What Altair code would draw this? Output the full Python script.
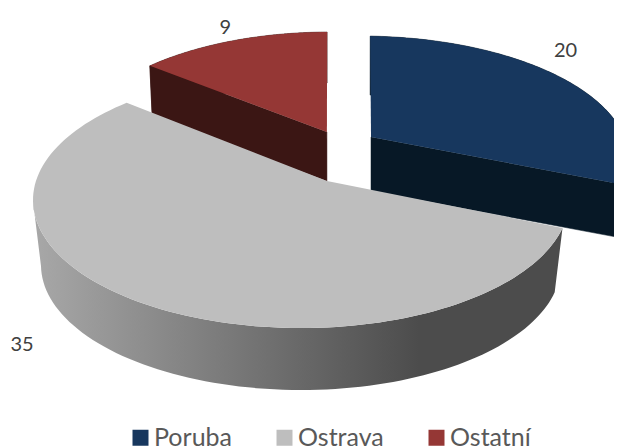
import numpy as np
import pandas as pd
import altair as alt

categories = ["Poruba", "Ostrava", "Ostatní"]
values = [20, 35, 9]
top_colors = ["#17375e", "#bebebe", "#953735"]
dark_colors = ["#071826", "#5a5a5a", "#3b1614"]

# perspective of each exploded slice: ellipse of the top and bottom rims (cx, cy, rx, ry)
# and the position of the slice apex inside that ellipse
top_rim = [(360, 160, 269, 124), (301, 200, 268, 128), (330, 151, 258, 119)]
bottom_rim = [(360, 215, 262, 120), (301, 265, 260, 125), (330, 200, 255, 117)]
apex_top = [(0.041, -0.185), (0.097, -0.148), (-0.012, -0.16)]
apex_bottom = [(0.042, -0.2), (0.097, -0.148), (-0.012, -0.162)]
label_offset = [(2, -28), (-147, -28), (-7, -13)]

total = sum(values)
edges = np.cumsum([0] + values) / total * 360


def rim_point(angle, rim, apex):
    cx, cy, rx, ry = rim
    q = complex(*apex)
    p = q / (1 + np.sqrt(1 - abs(q) ** 2))
    a = np.radians(angle)
    z = np.sin(a) - 1j * np.cos(a)
    w = (z + p) / (1 + np.conj(p) * z)
    return cx + rx * w.real, cy + ry * w.imag


def apex_point(rim, apex):
    return rim[0] + apex[0] * rim[2], rim[1] + apex[1] * rim[3]


def arc(start, end, rim, apex):
    return [rim_point(a, rim, apex) for a in np.linspace(start, end, 120)]


def up_to_leftmost(points):
    return points[: int(np.argmin([p[0] for p in points])) + 1]


def frame(points):
    pts = list(points) + [points[0]]
    return pd.DataFrame({"x": [p[0] for p in pts], "y": [p[1] for p in pts], "i": range(len(pts))})


xs = alt.Scale(domain=[8, 614], range=[0, 606], nice=False, zero=False)
ys = alt.Scale(domain=[8, 447], range=[0, 439], nice=False, zero=False)
X = alt.X("x:Q", scale=xs, axis=None)
Y = alt.Y("y:Q", scale=ys, axis=None)


def flat(points, color):
    return alt.Chart(frame(points)).mark_line(fill=color, stroke=color, strokeWidth=0.5).encode(
        x=X, y=Y, order="i:Q")


layers = []
for k in [2, 0]:  # back slices first
    s, e = edges[k], edges[k + 1]
    t, b = top_rim[k], bottom_rim[k]
    at, ab = apex_top[k], apex_bottom[k]
    layers.append(flat(arc(s, e, t, at) + arc(s, e, b, ab)[::-1], dark_colors[k]))
    cut = s if k == 2 else e
    layers.append(flat([rim_point(cut, t, at), apex_point(t, at), apex_point(b, ab), rim_point(cut, b, ab)],
                       dark_colors[k]))

# side wall of the large slice with its left-to-right shading, up to the silhouette on the left
s, e = edges[1], edges[2]
wall = frame(up_to_leftmost(arc(s, e, top_rim[1], apex_top[1]))
             + up_to_leftmost(arc(s, e, bottom_rim[1], apex_bottom[1]))[::-1])
layers.append(alt.Chart(wall).mark_line(
    fill=alt.LinearGradient(gradient="linear", x1=0, x2=1, y1=0, y2=0, stops=[
        alt.GradientStop(offset=0, color="#a8a8a8"),
        alt.GradientStop(offset=0.73, color="#4c4c4c"),
        alt.GradientStop(offset=1, color="#4c4c4c"),
    ]), strokeOpacity=0).encode(x=X, y=Y, order="i:Q"))

# top faces, carrying the legend
rows = []
for k, name in enumerate(categories):
    f = frame([apex_point(top_rim[k], apex_top[k])] + arc(edges[k], edges[k + 1], top_rim[k], apex_top[k]))
    f["slice"] = name
    rows.append(f)
tops = pd.concat(rows)
layers.append(alt.Chart(tops).mark_line(strokeOpacity=0).encode(
    x=X, y=Y, order="i:Q",
    fill=alt.Fill("slice:N", scale=alt.Scale(domain=categories, range=top_colors),
                  legend=alt.Legend(orient="none", legendX=120, legendY=417, direction="horizontal",
                                    title=None, symbolType="square", symbolSize=256, symbolStrokeWidth=0,
                                    labelFont="Lato", labelFontSize=25, labelColor="#595959",
                                    labelOffset=1, columnPadding=40, symbolOpacity=1)),
    ))

# value labels, next to the rim midpoints
lab = []
for k, v in enumerate(values):
    mid = (edges[k] + edges[k + 1]) / 2
    rim, apex = (bottom_rim[k], apex_bottom[k]) if k == 1 else (top_rim[k], apex_top[k])
    px, py = rim_point(mid, rim, apex)
    lab.append({"x": px + label_offset[k][0], "y": py + label_offset[k][1], "t": str(v)})
layers.append(alt.Chart(pd.DataFrame(lab)).mark_text(
    font="Lato", fontSize=20, color="#404040", align="center", baseline="middle").encode(x=X, y=Y, text="t:N"))

chart = alt.layer(*layers).properties(width=606, height=439, padding=0, autosize="none",
                                      background="#ffffff").configure_view(stroke=None)
chart.save("out.html", embed_options={"renderer": "svg", "actions": False})
